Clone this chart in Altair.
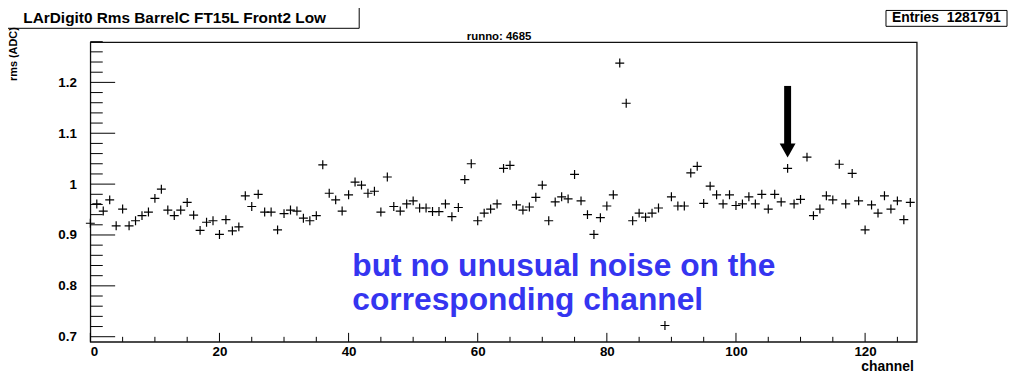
import altair as alt
import pandas as pd

# ---- data ----
channels = list(range(128))
rms = [
    0.923, 0.961, 0.947, 0.969, 0.918, 0.951, 0.918, 0.928, 0.938, 0.945,
    0.972, 0.990, 0.949, 0.938, 0.949, 0.964, 0.939, 0.909, 0.925, 0.928,
    0.901, 0.930, 0.908, 0.916, 0.977, 0.956, 0.980, 0.945, 0.945, 0.910,
    0.942, 0.949, 0.947, 0.933, 0.928, 0.938, 1.038, 0.982, 0.969, 0.947,
    0.979, 1.004, 0.998, 0.982, 0.986, 0.945, 1.014, 0.956, 0.947, 0.961,
    0.967, 0.953, 0.953, 0.946, 0.946, 0.961, 0.936, 0.954, 1.009, 1.040,
    0.928, 0.943, 0.951, 0.961, 1.031, 1.037, 0.959, 0.949, 0.955, 0.974,
    0.998, 0.928, 0.965, 0.975, 0.971, 1.019, 0.967, 0.940, 0.901, 0.934,
    0.957, 0.979, 1.238, 1.159, 0.928, 0.943, 0.935, 0.943, 0.953, 0.722,
    0.975, 0.957, 0.957, 1.022, 1.035, 0.962, 0.996, 0.979, 0.961, 0.979,
    0.958, 0.961, 0.975, 0.961, 0.980, 0.951, 0.980, 0.965, 1.031, 0.961,
    0.970, 1.053, 0.938, 0.951, 0.977, 0.969, 1.039, 0.961, 1.021, 0.967,
    0.910, 0.959, 0.943, 0.977, 0.951, 0.967, 0.930, 0.964,
]

x_major = [0, 20, 40, 60, 80, 100, 120]
x_minor = [v for v in range(0, 128, 5) if v % 20 != 0]
y_major = [0.7, 0.8, 0.9, 1.0, 1.1, 1.2]
y_minor = [round(0.70 + 0.02 * i, 2) for i in range(30) if i % 5 != 0]

arrow_x = [108]
arrow_top = [1.193]
arrow_base = [1.078]
arrow_head_mid = [1.066]

title_text = "LArDigit0 Rms BarrelC FT15L Front2 Low"
stats_text = "Entries\u00a0\u00a01281791"
run_text = "runno: 4685"
x_title = "channel"
y_title = "rms (ADC)"
note_lines = ["but no unusual noise on the", "corresponding channel"]

W, H = 833, 302
FONT = "Liberation Sans"

df = pd.DataFrame({"channel": channels, "rms": rms})
xs = alt.Scale(domain=[0, 128], nice=False, zero=False)
ys = alt.Scale(domain=[0.690, 1.279], nice=False, zero=False)

base = alt.Chart(df)

points = base.mark_point(
    shape="M-1,0L1,0M0,-1L0,1", size=81, filled=False,
    stroke="black", strokeWidth=1.2, opacity=1, clip=False,
).encode(
    x=alt.X("channel:Q", scale=xs,
            axis=alt.Axis(values=x_major, format="d", ticks=False, domain=False,
                          grid=False, title=None, labelFont=FONT,
                          labelFontWeight="bold", labelFontSize=13.5,
                          labelColor="black", labelPadding=3)),
    y=alt.Y("rms:Q", scale=ys,
            axis=alt.Axis(values=y_major, format="~g", ticks=False, domain=False,
                          grid=False, title=None, labelFont=FONT,
                          labelFontWeight="bold", labelFontSize=13.5,
                          labelColor="black", labelPadding=14)),
)

xmaj = alt.Chart(pd.DataFrame({"v": x_major})).mark_rule(color="black", strokeWidth=1).encode(
    x=alt.X("v:Q", scale=xs), y=alt.value(H), y2=alt.value(H - 9))
xmin = alt.Chart(pd.DataFrame({"v": x_minor})).mark_rule(color="black", strokeWidth=1).encode(
    x=alt.X("v:Q", scale=xs), y=alt.value(H), y2=alt.value(H - 5))
ymaj = alt.Chart(pd.DataFrame({"v": y_major})).mark_rule(color="black", strokeWidth=1).encode(
    y=alt.Y("v:Q", scale=ys), x=alt.value(0), x2=alt.value(25))
ymin = alt.Chart(pd.DataFrame({"v": y_minor})).mark_rule(color="black", strokeWidth=1).encode(
    y=alt.Y("v:Q", scale=ys), x=alt.value(0), x2=alt.value(12.5))

adf = pd.DataFrame({"x": arrow_x, "top": arrow_top, "base": arrow_base, "mid": arrow_head_mid})
shaft = alt.Chart(adf).mark_rule(color="black", strokeWidth=7).encode(
    x=alt.X("x:Q", scale=xs), y=alt.Y("top:Q", scale=ys), y2="base:Q")
head = alt.Chart(adf).mark_point(
    shape="M-1,-0.875L1,-0.875L0,0.875Z", size=256, filled=True,
    color="black", opacity=1).encode(
    x=alt.X("x:Q", scale=xs), y=alt.Y("mid:Q", scale=ys))

one = pd.DataFrame({"k": [0]})
def txt(text, x, y, size, align="center", color="black", angle=0, weight="bold", baseline="middle"):
    kw = dict(text=text, font=FONT, fontSize=size, fontWeight=weight, color=color,
              align=align, baseline=baseline)
    if angle:
        kw["angle"] = angle
    return alt.Chart(one).mark_text(**kw).encode(x=alt.value(x), y=alt.value(y))

def box(x1, y1, x2, y2):
    return alt.Chart(one).mark_rect(fill="white", stroke="black", strokeWidth=1).encode(
        x=alt.value(x1), x2=alt.value(x2), y=alt.value(y1), y2=alt.value(y2))

layers = [
    ymin, ymaj, xmin, xmaj, points, shaft, head,
    box(-86, -35, 271, -14), txt(title_text, 85, -24.5, 15.5),
    box(802, -32, 924, -16), txt(stats_text, 808, -24, 14, align="left"),
    txt(run_text, 412, -5, 11.5),
    txt(x_title, 830, 327, 14, align="right"),
    txt(y_title, -77, 12, 11, angle=270),
    txt(note_lines[0], 264, 236, 32, align="left", color="#3535f0", baseline="alphabetic"),
    txt(note_lines[1], 264, 270, 32, align="left", color="#3535f0", baseline="alphabetic"),
]

chart = alt.layer(*layers).properties(
    width=W, height=H,
    autosize=alt.AutoSizeParams(type="none"),
    padding={"left": 83, "top": 33, "right": 94, "bottom": 32},
    background="white",
).configure_view(stroke="#111", strokeWidth=1.3)

chart.save("out.html", embed_options={"renderer": "svg", "actions": False})
